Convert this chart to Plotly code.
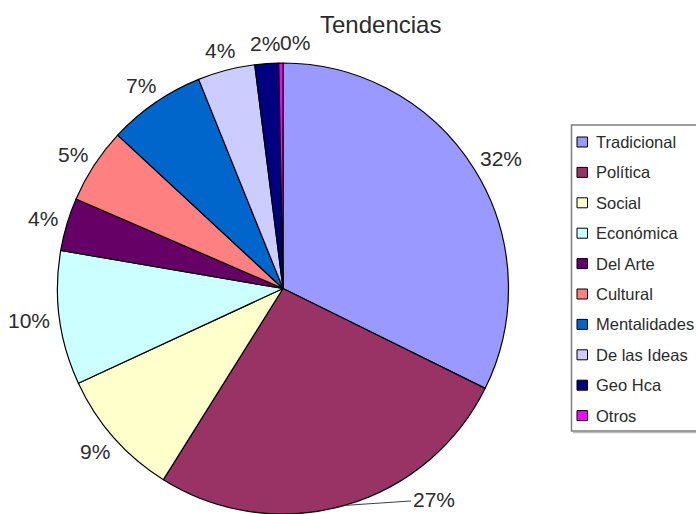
import math
import plotly.graph_objects as go

# Slices, clockwise from 12 o'clock
labels = ["Tradicional", "Política", "Social", "Económica", "Del Arte",
          "Cultural", "Mentalidades", "De las Ideas", "Geo Hca", "Otros"]
values = [32.3, 26.6, 9.2, 9.6, 3.8, 5.4, 7.0, 4.1, 1.7, 0.3]
colors = ["#9999FF", "#993366", "#FFFFCC", "#CCFFFF", "#660066",
          "#FF8080", "#0066CC", "#CCCCFF", "#000080", "#FF00FF"]

W, H = 696, 514
TOP = 63
FONT = "Liberation Sans, Arial, sans-serif"
LBL_SIZE = 21
TXT = "#2b2b2b"

# pie box in pixels (domain below)
X0, X1 = 57.5, 508.5
CX, CY = (X0 + X1) / 2, TOP + (H - TOP) / 2
R = (X1 - X0) / 2


def px(x):
    return x / W


def py(y):
    return (H - y) / (H - TOP)


fig = go.Figure(go.Pie(
    labels=labels, values=values, sort=False, direction="clockwise",
    rotation=0,
    marker=dict(colors=colors, line=dict(color="#000000", width=1.2)),
    textinfo="none",
    domain=dict(x=[px(X0), px(X1)], y=[0, 1]),
    showlegend=False, hoverinfo="label+percent",
))

annotations = []

# percent labels, Excel style: just outside the rim along the slice middle
total = sum(values)
cum = 0.0
prev_box = None
for lab, v in zip(labels, values):
    theta = 2 * math.pi * (cum + v / 2) / total
    cum += v
    txt = f"{round(100 * v / total)}%"
    s, c = math.sin(theta), -math.cos(theta)
    w = LBL_SIZE * (0.556 * (len(txt) - 1) + 0.889)
    h = LBL_SIZE
    if lab == "Política":
        # no room below the pie: moved to the right with a leader line
        annotations.append(dict(
            x=px(CX + R * s), y=py(CY + R * c), xref="paper", yref="paper",
            text=txt, showarrow=True, arrowhead=0, arrowwidth=1,
            arrowcolor="#404040", ax=89, ay=-6, standoff=0,
            font=dict(family=FONT, size=LBL_SIZE, color=TXT)))
        continue
    lx = CX + (R + 10) * s + w / 2 * s
    ly = CY + (R + 10) * c + h / 2 * c
    # push right if it would overlap the previous label
    if prev_box and abs(ly - prev_box[2]) < h and lx - w / 2 < prev_box[1]:
        lx = prev_box[1] + w / 2
    prev_box = (lx - w / 2, lx + w / 2, ly)
    annotations.append(dict(
        x=px(lx), y=py(ly), xref="paper", yref="paper", text=txt,
        showarrow=False, xanchor="center", yanchor="middle",
        font=dict(family=FONT, size=LBL_SIZE, color=TXT)))

# legend drawn by hand (Excel style box)
shapes = [
    dict(type="line", xref="paper", yref="paper", x0=px(573), x1=px(700),
         y0=py(432.5), y1=py(432.5), line=dict(color="#bdbdbd", width=1.5)),
    dict(type="rect", xref="paper", yref="paper",
         x0=px(571.5), x1=px(700), y0=py(125), y1=py(431),
         line=dict(color="#7f7f7f", width=1.5), fillcolor="white"),
]
for i, (lab, col) in enumerate(zip(labels, colors)):
    yc = 142 + 30.4 * i
    shapes.append(dict(type="rect", xref="paper", yref="paper",
                       x0=px(577), x1=px(587.5), y0=py(yc - 5), y1=py(yc + 5),
                       line=dict(color="#000000", width=1), fillcolor=col))
    annotations.append(dict(x=px(594), y=py(yc), xref="paper", yref="paper",
                            text=lab, showarrow=False, xanchor="left",
                            yanchor="middle",
                            font=dict(family=FONT, size=16.5, color=TXT)))

annotations.append(dict(x=px(380), y=py(24), xref="paper", yref="paper",
                        text="Tendencias", showarrow=False,
                        xanchor="center", yanchor="middle",
                        font=dict(family=FONT, size=24, color=TXT)))

fig.update_layout(
    width=W, height=H,
    margin=dict(l=0, r=0, t=TOP, b=0),
    paper_bgcolor="white", plot_bgcolor="white",
    shapes=shapes, annotations=annotations,
)

fig.write_html("out.html", config={"displayModeBar": False}, post_script=(
    "document.body.style.margin='0';"
    "document.body.style.overflow='hidden';"))
